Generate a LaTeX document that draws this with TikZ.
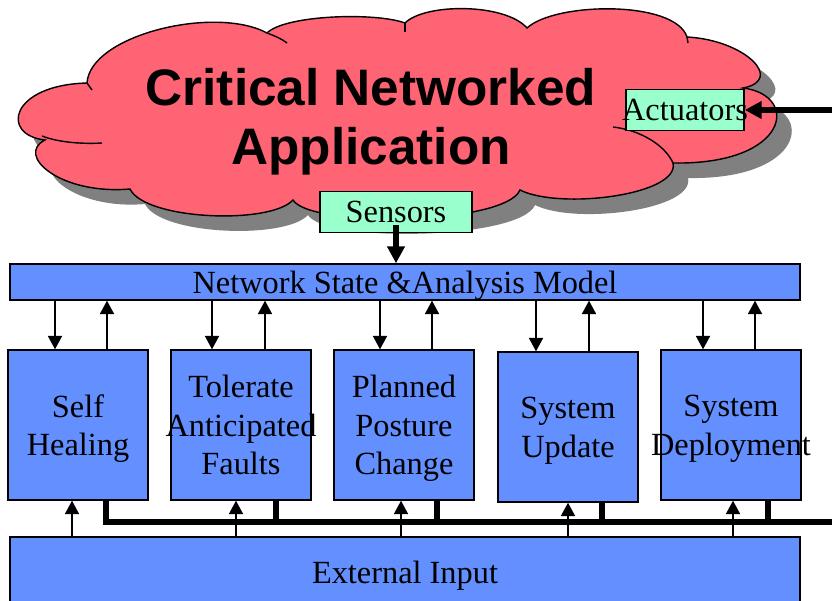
\documentclass[tikz,border=0pt]{standalone}
\usepackage{fontspec}
\setmainfont{Liberation Serif}
\newfontfamily\headfont{Liberation Sans}
\usetikzlibrary{arrows.meta}
\definecolor{cloudred}{HTML}{FF6475}
\definecolor{boxblue} {HTML}{638FFF}
\definecolor{tagmint} {HTML}{99FFCC}
\definecolor{shade}   {HTML}{808080}

\begin{document}
\begin{tikzpicture}[x=0.025cm, y=-0.025cm, font=\fontsize{23}{27.5}\selectfont,
    blk/.style={draw, line width=1pt, fill=boxblue, inner sep=0pt, text depth=0pt},
    lbl/.style={align=center, inner sep=0pt, text depth=0pt},
    tag/.style={draw, line width=1pt, fill=tagmint, inner sep=0pt, minimum height=1.025cm},
    flow/.style={line width=1.1pt, -{Triangle[length=9.5pt, width=10pt]}},
    bus/.style={line width=3.6pt},
    bighead/.style={-{Triangle[length=12pt, width=12pt]}}]
  \useasboundingbox (0,0) rectangle (832,600);

  % the application cloud, with its shadow
  \draw[line width=1pt, fill=cloudred,
        preaction={fill=shade, transform canvas={xshift=0.375cm, yshift=-0.375cm}}]
    (87,83) .. controls (90,35) and (215,5) .. (267,33)
    .. controls (285,15) and (375,12) .. (405,23)
    .. controls (425,3) and (505,3) .. (527,28)
    .. controls (555,2) and (675,0) .. (687,37)
    .. controls (745,40) and (785,80) .. (743,88)
    .. controls (800,95) and (790,165) .. (673,163)
    .. controls (680,195) and (560,210) .. (520,190)
    .. controls (505,225) and (310,228) .. (293,200)
    .. controls (270,225) and (145,220) .. (130,189)
    .. controls (60,195) and (15,155) .. (45,140)
    .. controls (0,135) and (10,85) .. (87,83) -- cycle;
  \draw[line width=1pt] (42,136) .. controls (60,143) and (85,144) .. (102,143);
  \draw[line width=1pt] (267,33) .. controls (275,36) and (282,39) .. (287,43);
  \draw[line width=1pt] (613,127) .. controls (640,130) and (665,145) .. (673,163);
  \draw[line width=1pt] (87,83) -- (92,90);
  \draw[line width=1pt] (405,23) -- (405,32);
  \draw[line width=1pt] (687,37) -- (688,43);

  \node[font=\headfont\bfseries\fontsize{36.5}{42}\selectfont, align=center] (title) at (371,122)
    {Critical Networked\\Application};
  \node[tag, minimum width=2.95cm, label={[lbl]center:Actuators}] (act) at (685,110) {};
  \node[tag, minimum width=3.8cm] (sens) at (396,212) {Sensors};
  \coordinate (feed) at (832,110);
  \draw[bus, bighead] (feed) -- (act.east);

  % model and the five handlers
  \node[blk, minimum width=19.75cm, minimum height=0.9cm] (state) at (405,282) {Network State \&Analysis Model};
  \draw[bus, bighead] ([yshift=6pt]sens.south) -- (sens.south |- state.north);

  \node[blk, minimum width=3.5cm, minimum height=3.75cm, label={[lbl]center:Self\\Healing}] (heal) at (78,425) {};
  \node[blk, minimum width=3.5cm, minimum height=3.75cm, label={[lbl]center:Tolerate\\Anticipated\\Faults}] (tol) at (241,425) {};
  \node[blk, minimum width=3.5cm, minimum height=3.75cm, label={[lbl]center:Planned\\Posture\\Change}] (plan) at (404,425) {};
  \node[blk, minimum width=3.5cm, minimum height=3.75cm, label={[lbl]center:System\\Update}] (upd) at (568,427) {};
  \node[blk, minimum width=3.5cm, minimum height=3.75cm, label={[lbl]center:System\\Deployment}] (dep) at (731,425) {};

  \node[blk, minimum width=19.75cm, minimum height=1.75cm] (ext) at (405,572) {External Input};
  \coordinate (busend) at (832,522);

  \foreach \b/\dn/\up/\ein/\eout in {heal/-23/29/-6/28, tol/-29/24/-5/35, plan/-24/28/-3/33,
                                      upd/-32/21/0/34, dep/-28/24/2/37} {
    \draw[flow] ([xshift=\dn*0.025cm]\b.north |- state.south) -- ([xshift=\dn*0.025cm]\b.north);
    \draw[flow] ([xshift=\up*0.025cm]\b.north) -- ([xshift=\up*0.025cm]\b.north |- state.south);
    \draw[flow] ([xshift=\ein*0.025cm]\b.south |- ext.north) -- ([xshift=\ein*0.025cm]\b.south);
    \draw[bus] ([xshift=\eout*0.025cm]\b.south) -- ([xshift=\eout*0.025cm]\b.south |- busend);
  }
  \draw[bus] ([xshift=28*0.025cm]heal.south) |- (busend);
\end{tikzpicture}
\end{document}
